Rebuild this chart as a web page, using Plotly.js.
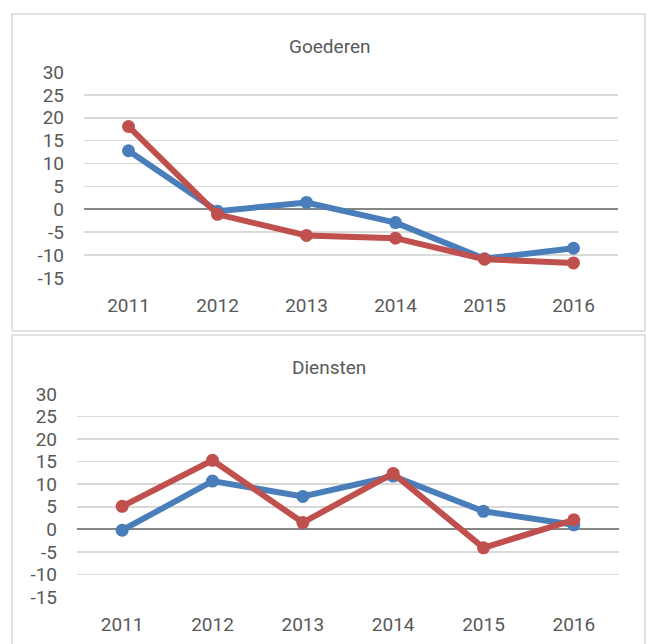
<!DOCTYPE html>
<html>
<head>
<meta charset="utf-8">
<script src="https://cdn.plot.ly/plotly-3.0.1.min.js"></script>
<style>html,body{margin:0;padding:0;background:#fff;}#chart{width:649px;height:644px;}</style>
</head>
<body>
<div id="chart"></div>
<script>
var years = ['2011', '2012', '2013', '2014', '2015', '2016'];
var goederenBlue = [12.8, -0.4, 1.5, -2.9, -10.8, -8.5];
var goederenRed = [18.1, -1.1, -5.7, -6.3, -10.9, -11.7];
var dienstenBlue = [-0.2, 10.7, 7.3, 11.8, 4.0, 1.0];
var dienstenRed = [5.1, 15.3, 1.5, 12.4, -4.1, 2.1];
var panelTitles = ['Goederen', 'Diensten'];
var yTicks = [-15, -10, -5, 0, 5, 10, 15, 20, 25, 30];
var yTickLabels = ['-15', '-10', '-5', '0', '5', '10', '15', '20', '25', '30'];

var BLUE = '#4a7ebb', RED = '#c0504d';
var FONT = 'Roboto, sans-serif';
var W = 649, H = 644;
function px(x) { return x / W; }
function py(y) { return 1 - y / H; }

function tr(y, color, xa, ya) {
  return {x: years, y: y, xaxis: xa, yaxis: ya, type: 'scatter', mode: 'lines+markers',
    line: {color: color, width: 6}, marker: {color: color, size: 13}, hoverinfo: 'x+y', showlegend: false};
}
var data = [
  tr(goederenBlue, BLUE, 'x', 'y'), tr(goederenRed, RED, 'x', 'y'),
  tr(dienstenBlue, BLUE, 'x2', 'y2'), tr(dienstenRed, RED, 'x2', 'y2')
];

function xax(d, anchor) {
  return {domain: d, anchor: anchor, type: 'category', range: [-0.5, 5.5], showgrid: false, zeroline: false,
    showline: false, ticks: '', ticklabelstandoff: 14,
    tickfont: {family: FONT, size: 19, color: '#595959'}, fixedrange: true};
}
function yax(d, anchor) {
  return {domain: d, anchor: anchor, range: [-15, 30], tickvals: yTicks, ticktext: yTickLabels,
    showgrid: true, gridcolor: '#d9d9d9', gridwidth: 1.5,
    zeroline: true, zerolinecolor: '#868686', zerolinewidth: 2, showline: false, ticks: '', ticklabelstandoff: 19,
    tickfont: {family: FONT, size: 19, color: '#595959'}, fixedrange: true};
}

var layout = {
  width: W, height: H, margin: {l: 0, r: 0, t: 0, b: 0},
  paper_bgcolor: '#fff', plot_bgcolor: 'rgba(0,0,0,0)',
  xaxis: xax([px(84), px(618)], 'y'),
  yaxis: yax([py(278), py(72)], 'x'),
  xaxis2: xax([px(77), px(619)], 'y2'),
  yaxis2: yax([py(597), py(394)], 'x2'),
  shapes: [
    {type: 'rect', xref: 'paper', yref: 'paper', x0: px(12), x1: px(645), y0: py(331), y1: py(14), line: {color: '#d9d9d9', width: 1.5}, layer: 'below'},
    {type: 'rect', xref: 'paper', yref: 'paper', x0: px(12), x1: px(645), y0: py(660), y1: py(335), line: {color: '#d9d9d9', width: 1.5}, layer: 'below'}
  ],
  annotations: [
    {text: panelTitles[0], xref: 'paper', yref: 'paper', x: px(329), y: py(47), showarrow: false, xanchor: 'center', yanchor: 'middle', font: {family: FONT, size: 19, color: '#595959'}},
    {text: panelTitles[1], xref: 'paper', yref: 'paper', x: px(329), y: py(367), showarrow: false, xanchor: 'center', yanchor: 'middle', font: {family: FONT, size: 19, color: '#595959'}}
  ]
};
Plotly.newPlot('chart', data, layout, {displayModeBar: false, staticPlot: true});
</script>
</body>
</html>
